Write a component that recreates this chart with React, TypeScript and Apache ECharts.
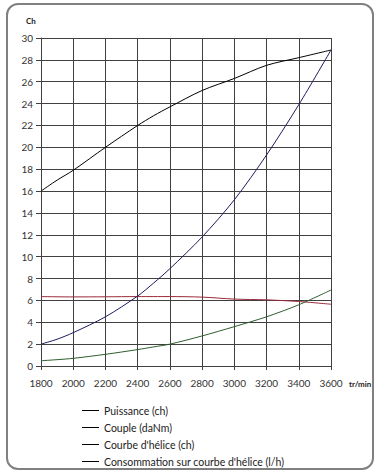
import React, { useEffect, useRef } from "react";
import * as echarts from "echarts";

const rpm = [1800, 1900, 2000, 2200, 2400, 2500, 2600, 2800, 3000, 3200, 3400, 3600];
const puissance = [16, 17, 17.9, 20, 22, 22.9, 23.7, 25.2, 26.3, 27.5, 28.2, 28.9];
const couple = [6.35, 6.33, 6.32, 6.33, 6.35, 6.35, 6.35, 6.3, 6.12, 6.05, 5.9, 5.65];
const helice = [2.0, 2.45, 3.05, 4.5, 6.4, 7.6, 8.9, 11.8, 15.2, 19.3, 23.9, 28.9];
const conso = [0.48, 0.58, 0.7, 1.07, 1.5, 1.75, 2.0, 2.75, 3.6, 4.5, 5.6, 6.95];
const seriesNames = [
  "Puissance (ch)",
  "Couple (daNm)",
  "Courbe d'hélice (ch)",
  "Consommation sur courbe d'hélice (l/h)",
];
const seriesColors = ["#000000", "#9a2a3a", "#1c1c5e", "#2e5e2e"];
const yTickLabels = ["0", "2", "4", "6", "8", "10", "12", "14", "16", "18", "20", "22", "24", "26", "28", "30"];

const FONT = "Lato";

export default function App() {
  const ref = useRef<HTMLDivElement>(null);
  useEffect(() => {
    document.body.style.margin = "0";
    const chart = echarts.init(ref.current!, null, { renderer: "svg" });
    const values = [puissance, couple, helice, conso];
    chart.setOption({
      animation: false,
      backgroundColor: "#ffffff",
      grid: { left: 41, right: 52, top: 38, bottom: 108, containLabel: false },
      xAxis: {
        type: "value",
        min: 1800,
        max: 3600,
        interval: 200,
        axisLine: { show: true, lineStyle: { color: "#404040", width: 1 } },
        axisTick: { show: true, length: 4, lineStyle: { color: "#404040" } },
        splitLine: { show: true, lineStyle: { color: "#404040", width: 1 } },
        axisLabel: {
          color: "#333",
          fontFamily: FONT,
          fontSize: 10,
          margin: 12,
          formatter: (v: number) => String(v),
        },
      },
      yAxis: {
        type: "value",
        min: 0,
        max: 30,
        interval: 2,
        axisLine: { show: true, lineStyle: { color: "#404040", width: 1 } },
        axisTick: { show: true, length: 5, lineStyle: { color: "#404040" } },
        splitLine: { show: true, lineStyle: { color: "#404040", width: 1 } },
        axisLabel: {
          color: "#333",
          fontFamily: FONT,
          fontSize: 10,
          margin: 8,
          formatter: (v: number) => yTickLabels[Math.round(v / 2)] ?? String(v),
        },
      },
      legend: {
        orient: "vertical",
        left: 82,
        top: 405,
        height: 70,
        padding: 0,
        icon: "rect",
        itemWidth: 17,
        itemHeight: 1,
        itemGap: 6,
        itemStyle: { color: "#000" },
        textStyle: { color: "#222", fontFamily: FONT, fontSize: 10.5, padding: [0, 0, 0, 0] },
        data: seriesNames,
      },
      series: seriesNames.map((name, i) => ({
        name,
        type: "line",
        data: rpm.map((x, j) => [x, values[i][j]]),
        symbol: "none",
        smooth: 0.3,
        lineStyle: { color: seriesColors[i], width: 1 },
        itemStyle: { color: seriesColors[i] },
      })),
      graphic: [
        {
          type: "rect",
          shape: { x: 7, y: 4, width: 366, height: 465, r: 11 },
          style: { fill: "none", stroke: "#808080", lineWidth: 2 },
          silent: true,
        },
        {
          type: "text",
          x: 26,
          y: 21,
          style: {
            text: "Ch",
            fontFamily: FONT,
            fontSize: 8,
            fontWeight: "bold",
            fill: "#222",
            verticalAlign: "middle",
          },
        },
        {
          type: "text",
          x: 349,
          y: 384,
          style: {
            text: "tr/min",
            fontFamily: FONT,
            fontSize: 8,
            fontWeight: "bold",
            fill: "#222",
            verticalAlign: "middle",
          },
        },
      ],
    });
    return () => chart.dispose();
  }, []);
  return <div ref={ref} style={{ width: 383, height: 474 }} />;
}
